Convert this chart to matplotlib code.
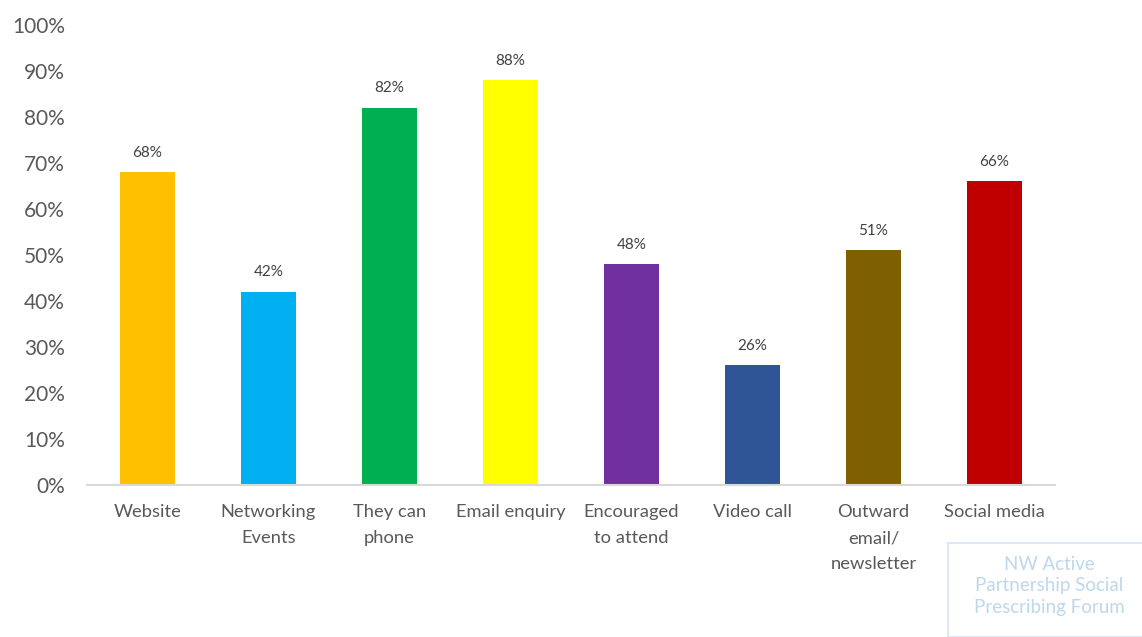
import matplotlib.pyplot as plt
from matplotlib.patches import Rectangle

categories = ['Website', 'Networking\nEvents', 'They can\nphone', 'Email enquiry',
              'Encouraged\nto attend', 'Video call', 'Outward\nemail/\nnewsletter',
              'Social media']
values = [68, 42, 82, 88, 48, 26, 51, 66]
colors = ['#FFC000', '#00B0F0', '#00B050', '#FFFF00',
          '#7030A0', '#2F5597', '#7F6000', '#C00000']
yticks = [0, 10, 20, 30, 40, 50, 60, 70, 80, 90, 100]

plt.rcParams['font.family'] = ['Lato', 'DejaVu Sans']
text_grey = '#595959'

fig = plt.figure(figsize=(11.42, 6.37), dpi=100)
ax = fig.add_axes([87 / 1142, 1 - 485 / 637, 968 / 1142, 460 / 637])

x = range(len(categories))
bars = ax.bar(x, values, width=0.46, color=colors, zorder=2)
for xi, v in zip(x, values):
    ax.annotate(f'{v}%', (xi, v), xytext=(0, 9), textcoords='offset points',
                ha='center', va='bottom', fontsize=11, color='#404040')

ax.set_xlim(-0.5, len(categories) - 0.5)
ax.set_ylim(0, 100)
ax.set_yticks(yticks)
ax.set_yticklabels([f'{t}%' for t in yticks], fontsize=15, color=text_grey)
ax.set_xticks(list(x))
ax.set_xticklabels(categories, fontsize=13.2, color=text_grey, va='top',
                   linespacing=1.75)
ax.tick_params(axis='both', length=0)
ax.tick_params(axis='x', pad=14)
ax.tick_params(axis='y', pad=16)

for side in ['top', 'right', 'left']:
    ax.spines[side].set_visible(False)
ax.spines['bottom'].set_color('#D9D9D9')
ax.spines['bottom'].set_linewidth(1.5)

# watermark box in the corner
fig.patches.append(Rectangle((948 / 1142, 0), 200 / 1142, 94 / 637,
                             transform=fig.transFigure, fill=False,
                             edgecolor='#DDE8F5', linewidth=1.5))
fig.text(1049 / 1142, 1 - 586 / 637,
         'NW Active\nPartnership Social\nPrescribing Forum',
         ha='center', va='center', fontsize=13.5, color='#BDD7EE',
         linespacing=1.35)

fig.savefig('out.png', dpi=100)
